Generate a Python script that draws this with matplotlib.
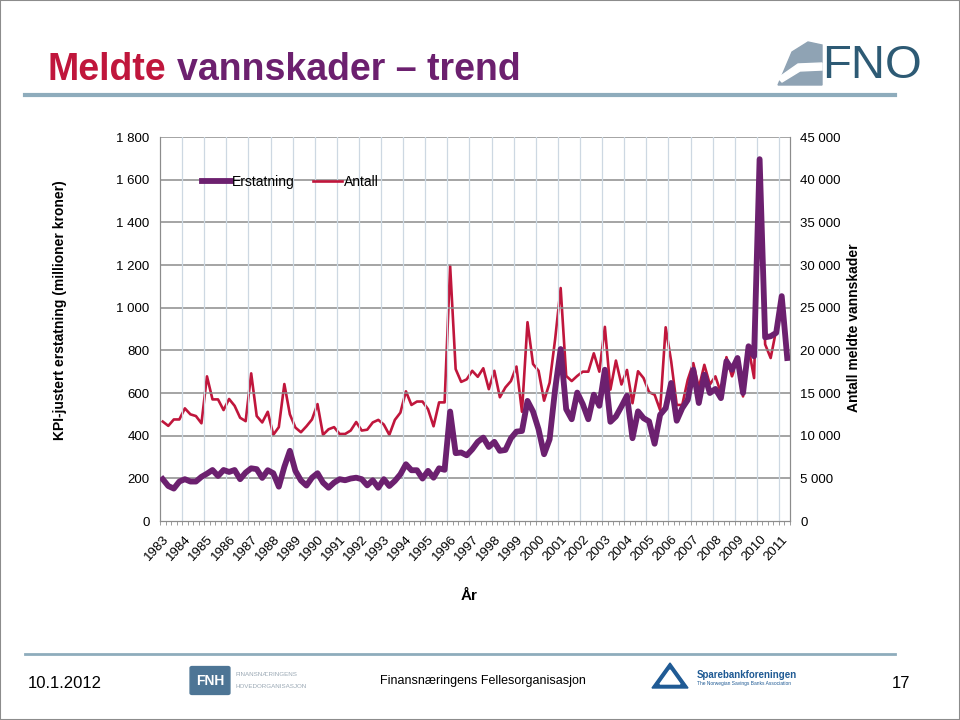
import numpy as np
import matplotlib
matplotlib.use("Agg")
import matplotlib.pyplot as plt
from matplotlib.ticker import FuncFormatter, MultipleLocator
from matplotlib.patches import Polygon, FancyBboxPatch, Rectangle
from matplotlib.lines import Line2D

plt.rcParams['font.family'] = ['Liberation Sans', 'DejaVu Sans']

# kvartalsdata 1983 K1 - 2011 K2
years = list(range(1983, 2012))

# KPI-justert erstatning (millioner kroner)
erstatning = [196, 164, 152, 185, 196, 185, 185, 207, 222, 239, 211, 239, 230, 239,
              196, 227, 247, 243, 202, 238, 224, 161, 254, 329, 235, 190, 166, 203,
              224, 180, 156, 180, 196, 191, 199, 203, 196, 167, 191, 156, 196, 164,
              188, 219, 266, 238, 238, 199, 235, 203, 247, 240, 513, 318, 321, 308,
              336, 371, 391, 347, 371, 329, 333, 388, 419, 422, 563, 513, 430, 313,
              383, 618, 806, 524, 477, 602, 548, 477, 592, 540, 709, 465, 490, 537,
              587, 388, 514, 482, 467, 362, 498, 529, 647, 470, 529, 568, 709, 553,
              686, 600, 619, 576, 749, 709, 764, 600, 819, 772, 1696, 861, 866, 882,
              1054, 764]

# Antall meldte vannskader
antall = [11650, 11150, 11900, 11900, 13200, 12500, 12300, 11450, 16950, 14250,
          14250, 13000, 14300, 13500, 12100, 11700, 17300, 12300, 11550, 12800,
          10100, 11000, 16050, 12500, 10950, 10400, 11100, 11900,
          13700, 10100, 10750, 11000, 10200, 10200, 10600, 11600, 10600, 10700,
          11550, 11850, 11300, 10100, 11850, 12700, 15200, 13600, 14000, 14000,
          13100, 11100, 13900, 13900, 29900, 17800, 16300, 16600, 17600,
          16900, 17900, 15450, 17600, 14500, 15650, 16400, 18100, 12800, 23300,
          18400, 17600, 14100, 16200, 21300, 27300, 17000, 16400, 17000, 17500,
          17500, 19650, 17500, 22750, 15400,
          18800, 16000, 17700, 13800, 17550, 16750, 15100, 14800, 13000, 22700,
          18700, 13600, 13600, 16550, 18500, 15600, 18300, 16000, 16950, 15000,
          19200, 16950, 18700, 14600, 20300, 16750, 42000, 20700, 19100, 22400,
          26150, 19100]

purple = '#6c206f'
red = '#c0163c'
x = np.arange(len(erstatning))

fig = plt.figure(figsize=(9.6, 7.2), dpi=100)
ax = fig.add_axes([160/960, 1-521/720, 630/960, 384/720])
ax2 = ax.twinx()

l2, = ax2.plot(x, antall, color=red, lw=1.9, solid_joinstyle='round')
l1, = ax.plot(x, erstatning, color=purple, lw=4.2, solid_joinstyle='round', zorder=3)
ax.set_zorder(ax2.get_zorder() + 1)
ax.patch.set_visible(False)

ax.set_xlim(-0.5, len(x) - 0.5)
ax.set_ylim(0, 1800)
ax2.set_ylim(0, 45000)
ax.yaxis.set_major_locator(MultipleLocator(200))
ax2.yaxis.set_major_locator(MultipleLocator(5000))
sp = FuncFormatter(lambda v, p: f"{int(v):,}".replace(",", " "))
ax.yaxis.set_major_formatter(sp)
ax2.yaxis.set_major_formatter(sp)

# gridlines
for v in np.arange(200, 1801, 200):
    ax.axhline(v, color='#8c8c8c', lw=1.1, zorder=0)
for k in np.arange(-0.5, len(x), 4)[1:]:
    ax.axvline(k, color='#cdd8e2', lw=0.9, zorder=0)

ax.set_xticks(np.arange(-0.5, len(x), 1), minor=True)
ax.set_xticks([4 * i for i in range(len(years))])
ax.set_xticklabels([str(y) for y in years], rotation=47, ha='right', va='top',
                   rotation_mode='anchor', fontsize=9.5)
ax.tick_params(axis='x', which='major', length=0, pad=9)
ax.tick_params(axis='x', which='minor', length=3, color='#8c8c8c')
ax.tick_params(axis='y', length=0, labelsize=9.5, pad=7.5)
ax2.tick_params(axis='y', length=0, labelsize=9.5, pad=7.5)

for a in (ax, ax2):
    for s in a.spines.values():
        s.set_color('#8c8c8c')
    a.spines['top'].set_visible(False)

ax.set_ylabel('KPI-justert erstatning (millioner kroner)', fontsize=10,
              fontweight='bold')
ax.yaxis.set_label_coords(-0.147, 0.549)
ax2.set_ylabel('Antall meldte vannskader', fontsize=10, fontweight='bold')
ax2.yaxis.set_label_coords(1.091, 0.503)
ax.set_xlabel('År', fontsize=11, fontweight='bold')
ax.xaxis.set_label_coords(0.49, -0.177)

fig.legend([l1, l2], ['Erstatning', 'Antall'], loc='center',
           bbox_to_anchor=(290/960, 1-182/720), ncol=2, frameon=False,
           fontsize=10, handlelength=2.1, columnspacing=1.3, handletextpad=0.1)

# title
fig.text(47/960, 1-70/720, 'Meldte', color=red, fontsize=27, fontweight='bold',
         family=['Liberation Sans Narrow', 'Liberation Sans'], va='center')
fig.text(177/960, 1-70/720, 'vannskader – trend', color=purple, fontsize=27,
         fontweight='bold', family=['Liberation Sans Narrow', 'Liberation Sans'],
         va='center')
fig.add_artist(Line2D([25/960, 895/960], [1-95/720, 1-95/720], color='#8eacbc', lw=3))
fig.add_artist(Line2D([25/960, 895/960], [1-654/720, 1-654/720], color='#8eacbc', lw=2))

# FNO logo
fig.add_artist(Polygon([(778/960, 1-85/720), (792/960, 1-52/720), (808/960, 1-42/720),
                        (822/960, 1-45/720), (822/960, 1-85/720)],
                       closed=True, transform=fig.transFigure, color='#8fa3b4'))
fig.add_artist(Polygon([(778/960, 1-78/720), (798/960, 1-64/720), (822/960, 1-63/720),
                        (822/960, 1-70/720), (800/960, 1-71/720), (782/960, 1-82/720)],
                       closed=True, transform=fig.transFigure, color='white'))
fig.text(822/960, 1-66/720, 'FNO', color='#2d5a74', fontsize=34, va='center',
         family=['Liberation Sans Narrow', 'Liberation Sans'])

# footer
fig.text(28/960, 1-683/720, '10.1.2012', fontsize=12, va='center')
fig.text(892/960, 1-683/720, '17', fontsize=12, va='center')
fig.add_artist(FancyBboxPatch((192/960, 1-693/720), 36/960, 25/720,
                              boxstyle='round,pad=0.002', transform=fig.transFigure,
                              color='#4d7595'))
fig.text(210/960, 1-681/720, 'FNH', color='white', fontsize=10, fontweight='bold',
         ha='center', va='center')
fig.text(236/960, 1-675/720, 'FINANSNÆRINGENS', color='#9aa8b4', fontsize=4.5, va='center')
fig.text(236/960, 1-687/720, 'HOVEDORGANISASJON', color='#9aa8b4', fontsize=4.5, va='center')
fig.text(483/960, 1-681/720, 'Finansnæringens Fellesorganisasjon', fontsize=9,
         ha='center', va='center', family=['Liberation Sans Narrow', 'Liberation Sans'])
fig.add_artist(Polygon([(652/960, 1-688/720), (670/960, 1-663/720), (688/960, 1-688/720)],
                       closed=True, transform=fig.transFigure, color='#1f5a94'))
fig.add_artist(Polygon([(660/960, 1-684/720), (670/960, 1-670/720), (680/960, 1-684/720)],
                       closed=True, transform=fig.transFigure, color='white'))
fig.text(697/960, 1-675/720, 'Sparebankforeningen', color='#1f5a94', fontsize=7,
         va='center', fontweight='bold')
fig.text(697/960, 1-684/720, 'The Norwegian Savings Banks Association', color='#1f5a94',
         fontsize=3.5, va='center')

fig.add_artist(Rectangle((0, 0), 1, 1, transform=fig.transFigure, fill=False,
                         edgecolor='#8c8c8c', lw=1.5))

fig.savefig('out.png', dpi=100)
